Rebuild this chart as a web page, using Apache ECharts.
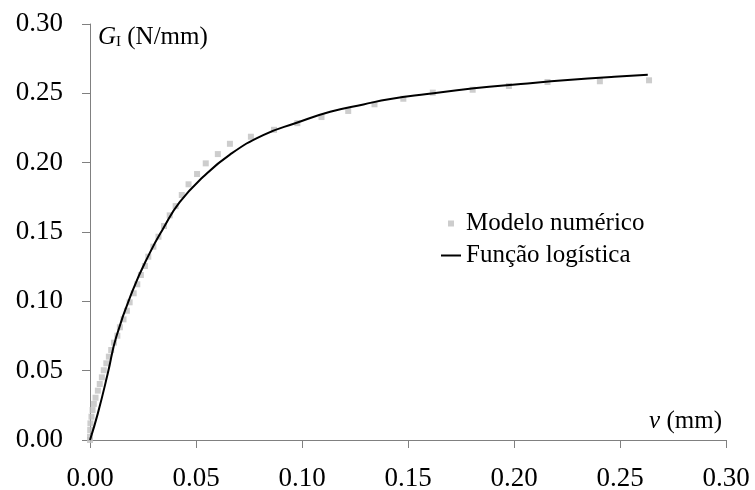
<!DOCTYPE html>
<html>
<head>
<meta charset="utf-8">
<script src="https://cdn.jsdelivr.net/npm/echarts@6/dist/echarts.min.js"></script>
<style>
  html, body { margin: 0; padding: 0; background: #fff; }
  #chart { width: 755px; height: 490px; }
</style>
</head>
<body>
<div id="chart"></div>
<script>
// Modelo numérico (v in mm, G_I in N/mm)
const modelV = [
	0, 0, 0.0001, 0.0002, 0.0007, 0.0012, 0.0018, 0.0026, 0.0037, 0.0046,
	0.0056, 0.0065, 0.0077, 0.0089, 0.0100, 0.0113, 0.0129, 0.0141, 0.0158, 0.0174,
	0.0187, 0.0206, 0.0223, 0.0240, 0.0259, 0.0275, 0.0299, 0.0323, 0.0349, 0.0376,
	0.0404, 0.0433, 0.0465, 0.0505, 0.0546, 0.0603, 0.0660, 0.0759, 0.0868, 0.0978,
	0.1092, 0.1218, 0.1342, 0.1478, 0.1617, 0.1805, 0.1976, 0.2158, 0.2405, 0.2637,
];
const modelG = [
	0, 0.0024, 0.0072, 0.0120, 0.0168, 0.0216, 0.0260, 0.0305, 0.0356, 0.0404,
	0.0452, 0.0503, 0.0553, 0.0601, 0.0649, 0.0702, 0.0752, 0.0813, 0.0870, 0.0932,
	0.0993, 0.1058, 0.1123, 0.1190, 0.1255, 0.1322, 0.1394, 0.1466, 0.1543, 0.1620,
	0.1687, 0.1767, 0.1844, 0.1918, 0.1995, 0.2062, 0.2136, 0.2187, 0.2237, 0.2285,
	0.2329, 0.2373, 0.2421, 0.2461, 0.2505, 0.2526, 0.2553, 0.2582, 0.2587, 0.2594,
];

// Função logística (curva)
const fitV = [
	0, 0.0037, 0.0084, 0.0124, 0.0202, 0.0281, 0.0344, 0.0423, 0.0534, 0.0660,
	0.0817, 0.0975, 0.1133, 0.1290, 0.1417, 0.1590, 0.1811, 0.2032, 0.2253, 0.2473,
	0.2631,
];
const fitG = [
	0, 0.0192, 0.0481, 0.0745, 0.1081, 0.1346, 0.1522, 0.1715, 0.1898, 0.2058,
	0.2199, 0.2288, 0.2367, 0.2420, 0.2459, 0.2495, 0.2536, 0.2567, 0.2596, 0.2620,
	0.2634,
];

const FONT = "Liberation Serif";

function zip(xs, ys) {
	return xs.map((x, i) => [x, ys[i]]);
}

const chart = echarts.init(document.getElementById("chart"));

const option = {
	animation: false,
	backgroundColor: "#fff",
	textStyle: { fontFamily: FONT, color: "#000" },
	grid: {
		left: 90,
		right: 29,
		top: 24,
		bottom: 50,
		containLabel: false,
		outerBoundsMode: "none",
	},
	legend: {
		orient: "vertical",
		left: 436,
		top: 206,
		itemWidth: 20,
		itemHeight: 6,
		itemGap: 7,
		textStyle: { fontFamily: FONT, fontSize: 25, color: "#000" },
		data: [
			{ name: "Modelo numérico", icon: "path://M0,0h1v1h-1z" },
			{ name: "Função logística", icon: "path://M0,0h20v2h-20z" },
		],
	},
	xAxis: {
		type: "value",
		min: 0,
		max: 0.3,
		interval: 0.05,
		name: "{i|v} (mm)",
		nameLocation: "end",
		nameGap: -4,
		nameTextStyle: {
			fontFamily: FONT,
			fontSize: 25,
			color: "#000",
			align: "right",
			verticalAlign: "bottom",
			padding: [0, 0, 6, 0],
			rich: { i: { fontFamily: FONT, fontSize: 25, fontStyle: "italic", color: "#000" } },
		},
		axisLine: { lineStyle: { color: "#808080", width: 1 } },
		axisTick: { show: true, inside: false, length: 8, lineStyle: { color: "#808080" } },
		axisLabel: {
			fontFamily: FONT,
			fontSize: 27,
			color: "#000",
			margin: 25,
			formatter: (v) => v.toFixed(2),
		},
		splitLine: { show: false },
	},
	yAxis: {
		type: "value",
		min: 0,
		max: 0.3,
		interval: 0.05,
		name: "{g|G}{s|I} (N/mm)",
		nameLocation: "end",
		nameGap: -13,
		nameTextStyle: {
			fontFamily: FONT,
			fontSize: 25,
			color: "#000",
			align: "left",
			verticalAlign: "middle",
			padding: [0, 0, 0, 8],
			rich: {
				g: { fontFamily: FONT, fontSize: 25, fontStyle: "italic", color: "#000" },
				s: { fontFamily: FONT, fontSize: 15, color: "#000", padding: [10, 0, 0, 0] },
			},
		},
		axisLine: { show: true, lineStyle: { color: "#808080", width: 1 } },
		axisTick: { show: true, inside: false, length: 8, lineStyle: { color: "#808080" } },
		axisLabel: {
			fontFamily: FONT,
			fontSize: 27,
			color: "#000",
			margin: 27,
			formatter: (v) => v.toFixed(2),
		},
		splitLine: { show: false },
	},
	series: [
		{
			name: "Modelo numérico",
			type: "scatter",
			symbol: "rect",
			symbolSize: 6,
			itemStyle: { color: "#c0c0c0" },
			data: zip(modelV, modelG),
			z: 2,
		},
		{
			name: "Função logística",
			type: "line",
			smooth: 0.5,
			showSymbol: false,
			symbol: "none",
			lineStyle: { color: "#000", width: 2 },
			itemStyle: { color: "#000" },
			data: zip(fitV, fitG),
			z: 3,
		},
	],
};

chart.setOption(option);
</script>
</body>
</html>
